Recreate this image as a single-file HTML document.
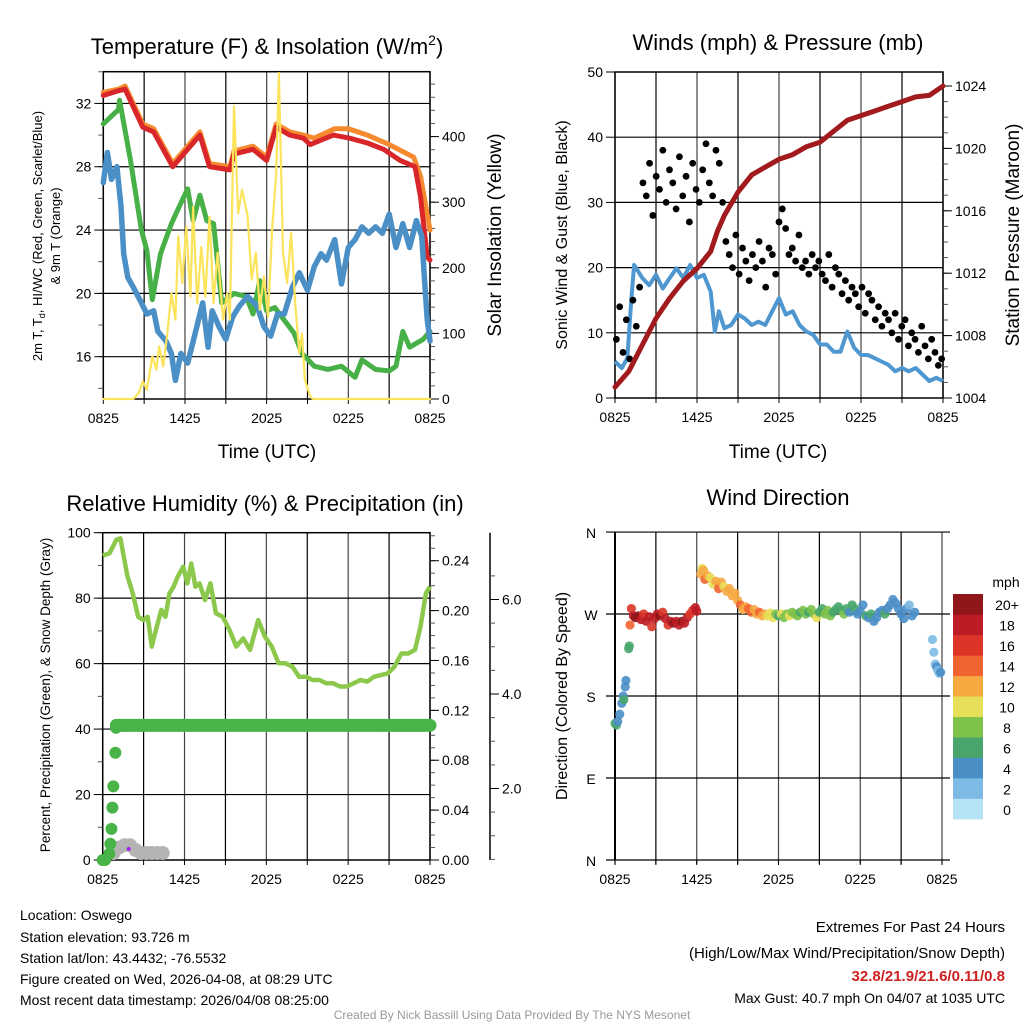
<!DOCTYPE html>
<html><head><meta charset="utf-8"><style>
body{margin:0;background:#fff;}
svg{display:block;font-family:"Liberation Sans",Arial,sans-serif;}
</style></head><body>
<svg id="chart" width="1024" height="1024" viewBox="0 0 1024 1024" xmlns="http://www.w3.org/2000/svg">
<rect width="1024" height="1024" fill="#fff"/>
<g id="p1"></g>
<g id="p2"></g>
<g id="p3"></g>
<g id="p4"></g>
<text x="267" y="54" font-size="22" text-anchor="middle">Temperature (F) &amp; Insolation (W/m<tspan font-size="14" dy="-9">2</tspan><tspan dy="9">)</tspan></text>
<text x="778" y="50" font-size="22" text-anchor="middle">Winds (mph) &amp; Pressure (mb)</text>
<text x="265" y="511" font-size="22" text-anchor="middle">Relative Humidity (%) &amp; Precipitation (in)</text>
<text x="778" y="505" font-size="22" text-anchor="middle">Wind Direction</text>
<text x="267" y="458" font-size="19" text-anchor="middle">Time (UTC)</text>
<text x="778" y="458" font-size="19" text-anchor="middle">Time (UTC)</text>
<text transform="translate(42,236) rotate(-90)" font-size="13" text-anchor="middle">2m T, T<tspan font-size="9" dy="3">d</tspan><tspan dy="-3">, HI/WC (Red, Green, Scarlet/Blue)</tspan></text>
<text transform="translate(60,236) rotate(-90)" font-size="13" text-anchor="middle">&amp; 9m T (Orange)</text>
<text transform="translate(501,235) rotate(-90)" font-size="19" text-anchor="middle">Solar Insolation (Yellow)</text>
<text transform="translate(567,235) rotate(-90)" font-size="16" text-anchor="middle">Sonic Wind &amp; Gust (Blue, Black)</text>
<text transform="translate(1019,235) rotate(-90)" font-size="19" text-anchor="middle">Station Pressure (Maroon)</text>
<text transform="translate(50,695) rotate(-90)" font-size="13.5" text-anchor="middle">Percent, Precipitation (Green), &amp; Snow Depth (Gray)</text>
<text transform="translate(567,696) rotate(-90)" font-size="16" text-anchor="middle">Direction (Colored By Speed)</text>
<g font-size="14">
<text x="20" y="920">Location: Oswego</text>
<text x="20" y="942">Station elevation: 93.726 m</text>
<text x="20" y="963">Station lat/lon: 43.4432; -76.5532</text>
<text x="20" y="984">Figure created on Wed, 2026-04-08, at 08:29 UTC</text>
<text x="20" y="1005">Most recent data timestamp: 2026/04/08 08:25:00</text>
</g>
<g font-size="15" text-anchor="end">
<text x="1005" y="932">Extremes For Past 24 Hours</text>
<text x="1005" y="958">(High/Low/Max Wind/Precipitation/Snow Depth)</text>
<text x="1005" y="981" fill="#cc2222" font-weight="bold">32.8/21.9/21.6/0.11/0.8</text>
<text x="1005" y="1003" font-size="14">Max Gust: 40.7 mph On 04/07 at 1035 UTC</text>
</g>
<text x="512" y="1019" font-size="12" fill="#999" text-anchor="middle">Created By Nick Bassill Using Data Provided By The NYS Mesonet</text>
</svg>
<script>
// ---- Panel 1 data (hours since 0825 UTC) ----
const tempH = [0,1.1,1.6,2.9,3.7,5.1,6.1,7.1,7.8,9.3,9.6,11,12,12.7,13.7,14.7,15.2,16.9,18.1,19.4,20.6,21.8,22.9,23.3,23.8,24];
const tempV = [32.5,32.8,32.9,30.5,30.2,28,29,30,28,27.8,28.8,29.1,28.4,30.5,30,29.8,29.4,30,29.8,29.5,29.1,28.4,28,26.1,22.3,22.1];
const t9H = [0,1.1,1.6,2.9,3.7,5.1,6.1,7.1,7.8,9.3,9.6,11,12,12.7,13.7,14.7,15.5,17,18,19.4,21,22.8,23.3,24];
const t9V = [32.7,32.9,33.1,30.7,30.4,28.2,29.2,30.2,28.2,28,29,29.3,28.6,30.7,30.2,30,29.8,30.4,30.4,30,29.4,28.6,27.4,24];
const dewH = [0,0.6,1.1,1.2,2,2.8,3.2,3.6,4.2,5,5.8,6.2,6.6,7.1,7.6,8.1,8.7,9.6,10.5,11,11.5,12,12.6,13.3,14,14.6,15.5,16.5,17.5,18.5,19,20,21,21.5,22,22.5,23.5,24];
const dewV = [30.7,31.2,31.6,32.2,28.4,24,22.7,19.6,22.5,24.4,25.9,26.6,24.6,26.2,24.6,24.4,19.4,20,19.8,18.7,20.8,18.9,19.1,18.3,17.5,16.2,15.4,15.2,15.4,14.7,15.8,15.2,15.1,15.4,17.6,16.6,17.1,17.6];
const hiH = [0,0.3,0.6,1,1.3,1.5,1.8,2.2,2.8,3.2,3.7,4,4.6,5,5.3,5.7,6.2,6.7,7.3,7.7,8,8.5,9,9.5,10,10.6,11.3,11.8,12.3,12.8,13.3,13.9,14.4,15,15.5,16,16.4,17,17.5,18,18.5,19,19.5,20,20.5,21,21.5,22,22.5,23,23.4,23.6,23.8,24];
const hiV = [27,28.9,27.2,28,25.5,22.5,21,20.4,19.4,18.7,18.9,17.6,17,16.2,14.5,16.2,15.6,17.3,19.4,16.6,18.9,17.9,17.1,18.5,19.2,19.8,19.2,17.9,17.3,18.7,18.7,20.4,21.3,20.2,21.7,22.5,22.1,23.4,20.6,22.9,23.4,24.2,23.8,24.2,23.8,25,22.9,24.4,22.9,24.6,23.6,20.8,18.3,17];
const solH = [0,2.2,2.6,2.9,3.2,3.6,3.9,4.1,4.4,4.7,5,5.3,5.5,5.8,6.1,6.4,6.6,6.9,7.2,7.5,7.8,8.1,8.4,8.8,9.1,9.3,9.6,9.9,10.2,10.6,10.9,11.2,11.5,11.8,12.1,12.4,12.7,12.9,13.2,13.5,13.8,14.1,14.4,14.6,14.8,15.2,15.4,24];
const solV = [0,0,9,27,14,65,45,80,50,100,161,121,248,177,263,156,293,146,232,156,278,146,223,121,161,121,446,283,319,279,182,223,136,187,126,258,344,497,223,177,253,146,70,100,30,4,0,0];
// ---- Panel 2 data ----
const presH = [0,1,2,3,4,5,6,7,7.5,8,9,10,11,12,13,14,15,16,17,18,19,20,21,22,23,24];
const presV = [1004.7,1005.7,1007.4,1009.1,1010.4,1011.5,1012.3,1013.4,1014.7,1015.7,1017.2,1018.3,1018.8,1019.3,1019.6,1020.1,1020.4,1021.1,1021.8,1022.1,1022.4,1022.7,1023,1023.3,1023.4,1024];
const windH = [0,0.5,0.9,1.2,1.4,2,2.5,3,3.5,4,4.5,5,5.5,6,6.5,7,7.3,7.6,8,8.5,9,9.5,10,10.5,11,11.5,12,12.5,13,13.5,14,14.5,15,15.5,16,16.5,17,17.5,18,18.5,19,19.5,20,20.5,21,21.5,22,22.5,23,23.5,24];
const windV = [5.6,4.6,6.1,15.3,20.4,18.4,17.3,18.9,16.8,18.4,19.9,18.4,20.4,18.4,18.9,16.3,10.2,13.3,10.7,11.2,12.8,12.2,11.2,11.7,11.2,13.3,15.3,12.8,13.3,11.2,10.2,9.7,8.2,8.2,7.1,7.1,10.2,7.7,6.6,6.6,6.1,5.6,5.1,4.1,4.6,4.1,4.6,3.6,2.6,3.1,2.6];
const gustV = [9,14,7,12,6,15,11,17,
 33,31,36,28,34,32,38,30,35,33,29,37,31,34,27,36,32,30,35,39,33,31,38,36,30,
 24,22,20,25,19,23,21,18,22,20,24,21,17,23,22,19,27,29,26,22,23,21,25,20,21,19,22,20,21,19,
 18,22,17,20,19,16,18,15,17,16,14,17,13,16,15,12,14,11,13,12,10,13,9,11,12,8,10,9,7,11,8,6,9,7,5,6];
// ---- Panel 3 data ----
const rhH = [0,0.5,1,1.3,1.8,2.2,2.6,3,3.3,3.6,3.9,4.3,4.6,4.9,5.2,5.5,5.9,6.2,6.5,6.8,7.1,7.5,7.9,8.3,8.8,9.3,9.8,10.3,10.8,11.4,11.9,12.4,12.9,13.4,13.9,14.4,14.9,15.4,15.9,16.4,16.9,17.4,17.9,18.4,18.9,19.4,19.9,20.4,20.9,21.4,21.9,22.4,22.9,23.3,23.7,24];
const rhV = [93,93.7,97.8,98.3,87,81.5,74.3,73.3,74.3,65.2,70.3,76.4,74.3,81.5,83.5,86.6,89.6,84.5,90.6,83.5,84.5,79.4,84.5,75.4,74.3,70.3,65.2,67.7,64.2,73.3,68.2,65.2,60.1,60.1,59.1,56,56,55,55,54,54,53,53,54,55,54.5,56,56.5,57,59.1,63.1,63.1,64.2,71.3,81.5,83.5];
const prH = [0,0.17,0.49,0.56,0.64,0.71,0.78,0.93,0.98];
const prV = [0,0,0.005,0.013,0.025,0.042,0.059,0.086,0.106];
const prTotal = 0.108;
const snowH = [0.8,1.2,1.6,2.0,2.4,2.8,3.2,3.6,4.0,4.4];
const snowV = [0.6,0.75,0.8,0.8,0.7,0.45,0.35,0.55,0.45,0.35];
// ---- Panel 4 data ----
const dirH = [0,0.1,0.2,0.35,0.5,0.6,0.65,0.75,0.8,1.0,1.05,1.1,1.2,1.35,1.5,1.7,1.9,2.1,2.3,2.5,2.7,2.9,3.1,3.3,3.5,3.7,3.9,4.1,4.3,4.5,4.7,4.9,5.1,5.3,5.5,5.7,5.9,6.0,6.3,6.4,6.5,6.6,6.8,7.0,7.2,7.4,7.6,7.8,8.0,8.2,8.4,8.6,8.8,9.0,9.2,9.4,9.6,9.8,10.0,10.2,10.4,10.6,10.8,11.0,11.2,11.4,11.6,11.8,12.0,12.2,12.4,12.6,12.8,13.0,13.2,13.4,13.6,13.8,14.0,14.2,14.4,14.6,14.8,15.0,15.2,15.4,15.6,15.8,16.0,16.2,16.4,16.6,16.8,17.0,17.2,17.4,17.6,17.8,18.0,18.2,18.4,18.6,18.8,19.0,19.2,19.4,19.6,19.8,20.0,20.2,20.4,20.6,20.8,21.0,21.2,21.4,21.6,21.8,22.0,23.3,23.4,23.5,23.6,23.7,23.8,23.9];
const dirV = [150,148,152,160,172,180,176,190,197,232,235,258,276,268,266,268,264,270,262,267,256,265,270,268,272,265,258,262,260,262,258,262,260,266,270,274,277,273,314,320,318,308,312,310,303,306,298,305,300,295,298,290,293,285,280,275,278,276,272,275,270,272,268,270,268,271,266,270,268,270,266,270,268,272,270,268,272,274,270,272,275,270,266,272,276,270,274,268,272,275,278,274,270,276,272,280,276,270,273,280,268,266,270,262,266,272,274,270,276,280,286,282,276,270,265,276,280,268,272,242,228,215,212,208,205,206];
const dirS = [6,6,5,4,4,4,6,4,4,6,6,14,16,18,20,20,18,16,18,18,16,18,18,20,16,18,16,18,20,18,18,20,18,18,16,16,18,18,12,10,12,14,12,10,10,12,14,12,10,12,12,12,12,12,14,12,12,14,14,12,12,14,12,12,10,10,10,8,6,10,8,8,10,8,8,8,6,8,8,6,8,8,10,6,6,8,8,8,6,6,6,6,8,6,4,6,6,4,4,4,6,4,6,4,4,4,4,6,4,4,4,4,4,4,4,4,2,4,4,2,2,2,4,2,2,4];
const speedBins = ['0','2','4','6','8','10','12','14','16','18','20+'];
const binColors = ['#b5e3f7','#7dbbe4','#4a8ec6','#48a66c','#7dc24b','#e8df58','#f6a941','#ef6430','#dc3527','#bc1c24','#8f1619'];

const NS='http://www.w3.org/2000/svg';
function mk(parent, tag, attrs, txt){const e=document.createElementNS(NS,tag);for(const k in attrs)e.setAttribute(k,attrs[k]);if(txt!==undefined)e.textContent=txt;parent.appendChild(e);return e;}
function pathD(hs,vs,fx,fy){return hs.map((h,i)=>(i?'L':'M')+fx(h).toFixed(1)+','+fy(vs[i]).toFixed(1)).join('');}
const xLabels=['0825','1425','2025','0225','0825'];

function grid(g,x0,x1,y0,y1,hLines,frame,name){
  for(let i=0;i<=8;i++){const x=x0+(x1-x0)*i/8;
    const l=mk(g,'line',{x1:x,x2:x,y1:y0,y2:y1+(frame?0:4),stroke:(i%2?'#000':'#444'),'stroke-width':1.2});
    
    
    const t=mk(g,'line',{x1:x,x2:x,y1:y1,y2:y1+5,stroke:'#000','stroke-width':1});
    
    }
  hLines.forEach(y=>{const l=mk(g,'line',{x1:frame?x0:x0-9,x2:frame?x1:x1+8,y1:y,y2:y,stroke:'#000','stroke-width':1.2});
    
    });
  if(frame){const r=mk(g,'rect',{x:x0,y:y0,width:x1-x0,height:y1-y0,fill:'none',stroke:'#000','stroke-width':1.5});
    
    }
  xLabels.forEach((s,i)=>{const t=mk(g,'text',{x:x0+(x1-x0)*i/4,y:y1+24,'font-size':14,'text-anchor':'middle'},s);
    
    });
}
function yTicks(g,x,vals,fy,fmt,side,name,minor){
  minor.forEach(v=>{const t=mk(g,'line',{x1:x,x2:x+(side<0?-5:5),y1:fy(v),y2:fy(v),stroke:'#555','stroke-width':1});
    
    });
  vals.forEach(v=>{const y=fy(v);
    const t=mk(g,'line',{x1:x,x2:x+(side<0?-9:9),y1:y,y2:y,stroke:'#000','stroke-width':1});
    
    
    const l=mk(g,'text',{x:x+(side<0?-12:12),y:y+5,'font-size':14,'text-anchor':side<0?'end':'start'},fmt(v));
    
    });
}
function rng(a,b,s){const r=[];for(let v=a;v<=b+1e-9;v+=s)r.push(+v.toFixed(4));return r;}

// Panel 1
(function(){const g=document.getElementById('p1');
 const x0=103.3,x1=430,y0=71.7,y1=399;
 const fx=h=>x0+(x1-x0)*h/24, fy=v=>356.7-(v-16)*15.83, fs=v=>399-v*0.656;
 grid(g,x0,x1,y0,y1,[16,20,24,28,32].map(fy),true,'p1');
 yTicks(g,x0,[16,20,24,28,32],fy,v=>String(v),-1,'p1-temp',rng(14,34,2));
 yTicks(g,x1,[0,100,200,300,400],fs,v=>String(v),1,'p1-solar',rng(0,480,20));
 const sets=[[t9H,t9V,'#f58a2f',5,'nine-meter-temp-line',fy],[tempH,tempV,'#d8262a',5,'two-meter-temp-line',fy],[dewH,dewV,'#47b046',5,'dewpoint-line',fy],[hiH,hiV,'#4a8fc6',5.5,'wind-chill-line',fy],[solH,solV,'#fbe35b',2.2,'solar-insolation-line',fs]];
 sets.forEach(s=>{const p=mk(g,'path',{d:pathD(s[0],s[1],fx,s[5]),fill:'none',stroke:s[2],'stroke-width':s[3],'stroke-linejoin':'round','stroke-linecap':'round'});
  
  });
})();
// Panel 2
(function(){const g=document.getElementById('p2');
 const x0=615,x1=943,y0=72,y1=398;
 const fx=h=>x0+(x1-x0)*h/24, fw=v=>398-v*6.52, fp=v=>398-(v-1004)*15.6;
 grid(g,x0,x1,y0,y1,[10,20,30,40].map(fw),true,'p2');
 yTicks(g,x0,[0,10,20,30,40,50],fw,v=>String(v),-1,'p2-wind',[]);
 yTicks(g,x1,[1004,1008,1012,1016,1020,1024],fp,v=>String(v),1,'p2-pressure',rng(1004,1024,1));
 const wp=mk(g,'path',{d:pathD(windH,windV,fx,fw),fill:'none',stroke:'#4f97d0','stroke-width':4,'stroke-linejoin':'round'});
 
 
 gustV.forEach((v,i)=>{const h=0.1+i*23.8/(gustV.length-1);
  const c=mk(g,'circle',{cx:fx(h),cy:fw(v),r:3.4,fill:'#000'});
  
  });
 const pp=mk(g,'path',{d:pathD(presH,presV,fx,fp),fill:'none',stroke:'#a11a1d','stroke-width':5,'stroke-linejoin':'round','stroke-linecap':'round'});
 
 
})();
// Panel 3
(function(){const g=document.getElementById('p3');
 const x0=102.7,x1=430,y0=532.7,y1=860;
 const fx=h=>x0+(x1-x0)*h/24, fr=v=>860-v*3.273, fpr=v=>860-v*1247, fsn=v=>883-v*47.25;
 grid(g,x0,x1,y0,y1,[20,40,60,80].map(fr),true,'p3');
 yTicks(g,x0,[0,20,40,60,80,100],fr,v=>String(v),-1,'p3-percent',rng(0,100,10));
 yTicks(g,x1,[0,0.04,0.08,0.12,0.16,0.2,0.24],fpr,v=>v.toFixed(2),1,'p3-precip',rng(0,0.26,0.01));
 const ax=mk(g,'line',{x1:490,x2:490,y1:y0,y2:y1,stroke:'#000','stroke-width':1.5});
 
 
 yTicks(g,490,[2,4,6],fsn,v=>v.toFixed(1),1,'p3-snow',rng(0.5,6.5,0.5));
 snowH.forEach((h,i)=>{const c=mk(g,'circle',{cx:fx(h),cy:Math.min(fsn(snowV[i]),853),r:7,fill:'#b4b4b4'});
  
  });
 const pu=mk(g,'circle',{cx:128.7,cy:849,r:2,fill:'#a020f0'});
 
 
 const pl=mk(g,'line',{x1:fx(1),x2:fx(24),y1:fpr(prTotal),y2:fpr(prTotal),stroke:'#48b448','stroke-width':13,'stroke-linecap':'round'});
 
 
 prH.forEach((h,i)=>{const c=mk(g,'circle',{cx:fx(h),cy:fpr(prV[i]),r:6,fill:'#48b448'});
  
  });
 const rp=mk(g,'path',{d:pathD(rhH,rhV,fx,fr),fill:'none',stroke:'#8cc84b','stroke-width':4.5,'stroke-linejoin':'round'});
 
 
})();
// Panel 4
(function(){const g=document.getElementById('p4');
 const x0=615,x1=942,y0=532,y1=860;
 const fx=h=>x0+(x1-x0)*h/24, fd=d=>860-d*0.911;
 grid(g,x0,x1,y0,y1,[0,90,180,270,360].map(fd),false,'p4');
 const ax=mk(g,'line',{x1:x0,x2:x0,y1:y0,y2:y1,stroke:'#000','stroke-width':2});
 
 
 [['N',360],['W',270],['S',180],['E',90],['N',0]].forEach(a=>{const t=mk(g,'text',{x:591,y:fd(a[1])+6,'font-size':14,'text-anchor':'middle'},a[0]);
  
  });
 dirH.forEach((h,i)=>{const b=Math.min(10,Math.floor(dirS[i]/2));
  const c=mk(g,'circle',{cx:fx(h),cy:fd(dirV[i]),r:4.6,fill:binColors[b],'fill-opacity':0.9});
  
  });
 const bh=225/11;
 speedBins.forEach((s,i)=>{const y=819-(i+1)*bh;
  const r=mk(g,'rect',{x:953,y:y,width:30,height:bh+0.3,fill:binColors[i]});
  
  
  const t=mk(g,'text',{x:1007,y:y+bh/2+6,'font-size':14,'text-anchor':'middle'},s);
  
  });
 const m=mk(g,'text',{x:1006,y:587,'font-size':14,'text-anchor':'middle'},'mph');
 
 
})();
</script>
</body></html>
